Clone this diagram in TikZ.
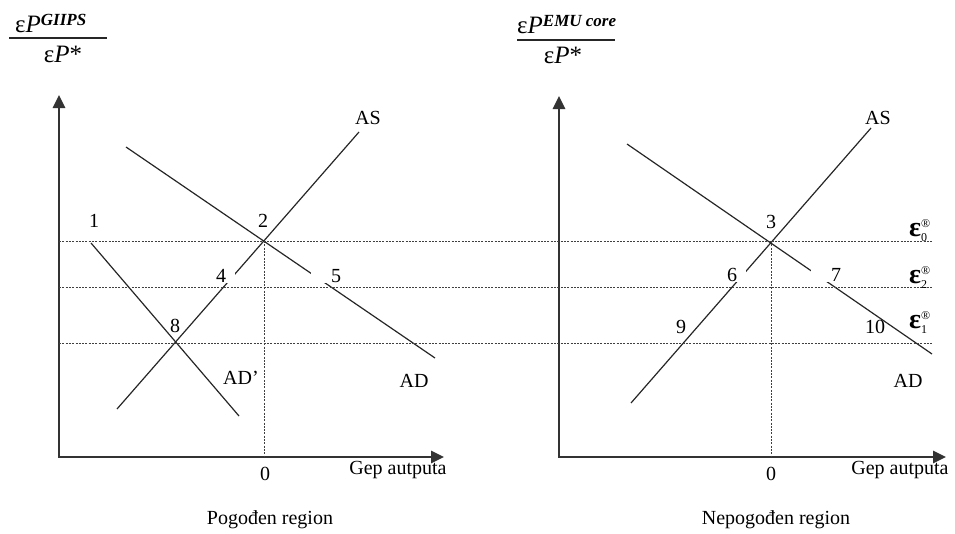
\documentclass[tikz,border=0pt]{standalone}
\usepackage{fontspec}
\setmainfont{Liberation Serif}
\usetikzlibrary{arrows.meta}
\begin{document}
\begin{tikzpicture}[x=1pt,y=-1pt,
  curve/.style={line width=1.2pt, draw=black!85},
  axisline/.style={line width=2.6pt, draw=black!80, {Triangle[length=13pt,width=12pt]}-{Triangle[length=13pt,width=12pt]}},
  guide/.style={line width=0.8pt, draw=black!75, dash pattern=on 2pt off 1.3pt},
  lbl/.style={font=\fontsize{20}{22}\selectfont, inner sep=1pt, text=black},
  gaplbl/.style={lbl, fill=white, inner xsep=0.5pt, inner ysep=0.5pt},
  eps/.style={font=\fontsize{28}{30}\selectfont\bfseries, inner sep=0pt, text=black, anchor=base west},
  frac/.style={font=\fontsize{25}{27}\selectfont, inner sep=0pt, text=black},
  bar/.style={line width=1.2pt, draw=black!85},
]
\useasboundingbox (0,0) rectangle (955,533);

% ---------- axes ----------
\coordinate (Y1) at (59,95);
\coordinate (O1) at (59,457);
\coordinate (X1) at (444,457);
\draw[axisline] (Y1) -- (O1) -- (X1);
\coordinate (Y2) at (559,96);
\coordinate (O2) at (559,457);
\coordinate (X2) at (946,457);
\draw[axisline] (Y2) -- (O2) -- (X2);

% ---------- curves ----------
\coordinate (asL1) at (117,409); \coordinate (asL2) at (359,132);
\coordinate (adL1) at (126,147); \coordinate (adL2) at (435,358);
\coordinate (adpL1) at (91,243); \coordinate (adpL2) at (239,416);
\draw[curve] (asL1) -- (asL2);
\draw[curve] (adL1) -- (adL2);
\draw[curve] (adpL1) -- (adpL2);
\coordinate (asR1) at (631,403); \coordinate (asR2) at (871,128);
\coordinate (adR1) at (627,144); \coordinate (adR2) at (932,354);
\draw[curve] (asR1) -- (asR2);
\draw[curve] (adR1) -- (adR2);

% ---------- point labels (white boxes break the lines) ----------
\node[lbl] (n1) at (94,221) {1};
\node[lbl] (n2) at (263,221) {2};
\node[gaplbl] (n4) at (225,276) {\makebox[18pt][l]{4}};
\node[gaplbl] (n5) at (326,276) {\makebox[30pt][r]{5}};
\node[lbl] (n8) at (175,326) {8};
\node[lbl] (n3) at (771,222) {3};
\node[gaplbl] (n6) at (736,275) {\makebox[18pt][l]{6}};
\node[gaplbl] (n7) at (826,275) {\makebox[30pt][r]{7}};
\node[lbl] (n9) at (681,327) {9};
\node[lbl] (n10) at (875,327) {10};

% ---------- guide lines ----------
\coordinate (h0a) at (59,241);  \coordinate (h0b) at (932,241);
\coordinate (h2a) at (59,287);  \coordinate (h2b) at (932,287);
\coordinate (h1a) at (59,343);  \coordinate (h1b) at (932,343);
\draw[guide] (h0a) -- (h0b);
\draw[guide] (h2a) -- (h2b);
\draw[guide] (h1a) -- (h1b);
\coordinate (v1a) at (264,241); \coordinate (v1b) at (264,457);
\draw[guide] (v1a) -- (v1b);
\coordinate (v2a) at (771,241); \coordinate (v2b) at (771,457);
\draw[guide] (v2a) -- (v2b);

% ---------- curve names and axis texts ----------
\node[lbl] (asLl) at (368,118) {AS};
\node[lbl] (adLl) at (414,381) {AD};
\node[lbl] (adpLl) at (241,378) {AD’};
\node[lbl] (z1) at (265,474) {0};
\node[lbl] (gap1) at (398,470) {Gep autputa};
\node[lbl] (reg1) at (270,520) {Pogođen region};
\node[lbl] (asRl) at (878,118) {AS};
\node[lbl] (adRl) at (908,381) {AD};
\node[lbl] (z2) at (771,474) {0};
\node[lbl] (gap2) at (900,470) {Gep autputa};
\node[lbl] (reg2) at (776,520) {Nepogođen region};

% ---------- exchange-rate levels ----------
\node[eps] (e0) at (909,236) {ε\rlap{\raisebox{-5pt}{\fontsize{12}{12}\selectfont\mdseries 0}}\raisebox{9pt}{\fontsize{12}{12}\selectfont\mdseries ®}};
\node[eps] (e2) at (909,283) {ε\rlap{\raisebox{-5pt}{\fontsize{12}{12}\selectfont\mdseries 2}}\raisebox{9pt}{\fontsize{12}{12}\selectfont\mdseries ®}};
\node[eps] (e1) at (909,328) {ε\rlap{\raisebox{-5pt}{\fontsize{12}{12}\selectfont\mdseries 1}}\raisebox{9pt}{\fontsize{12}{12}\selectfont\mdseries ®}};

% ---------- axis titles (fractions) ----------
\node[frac, anchor=base west] (numL) at (15,32) {ε\textit{P}\raisebox{7pt}{\fontsize{17}{17}\selectfont\bfseries\itshape GIIPS}};
\coordinate (barL1) at (9,38); \coordinate (barL2) at (107,38);
\draw[bar] (barL1) -- (barL2);
\node[frac, anchor=base] (denL) at (63,62) {ε\textit{P}*};

\node[frac, anchor=base west] (numR) at (517,33) {ε\textit{P}\raisebox{7pt}{\fontsize{17}{17}\selectfont\bfseries\itshape EMU core}};
\coordinate (barR1) at (517,40); \coordinate (barR2) at (615,40);
\draw[bar] (barR1) -- (barR2);
\node[frac, anchor=base] (denR) at (563,63) {ε\textit{P}*};
\end{tikzpicture}
\end{document}
